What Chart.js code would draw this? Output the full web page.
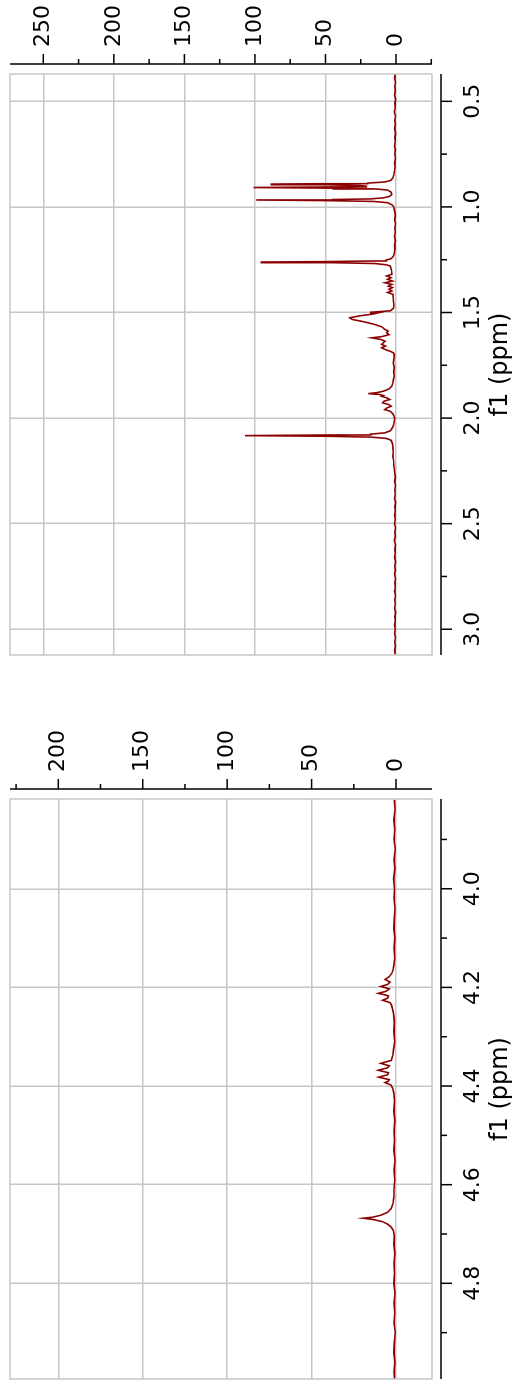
<!DOCTYPE html>
<html>
<head>
<meta charset="utf-8">
<script src="https://cdn.jsdelivr.net/npm/chart.js@4.4.1/dist/chart.umd.min.js"></script>
<style>
    html, body { margin: 0; padding: 0; background: #fff; }
    body { width: 516px; height: 1387px; overflow: hidden; position: relative; }
    /* the spectrum is drawn landscape and turned a quarter to the left */
    #stage {
        position: absolute; left: 0; top: 0;
        width: 1387px; height: 516px;
        transform-origin: 0 0;
        transform: translateY(1387px) rotate(-90deg);
    }
    #stage canvas { position: absolute; top: 0; }
    #downfield { left: 0; }
    #aliphatic { left: 697px; }
</style>
</head>
<body>
<div id="stage">
    <canvas id="downfield" width="690" height="516"></canvas>
    <canvas id="aliphatic" width="690" height="516"></canvas>
</div>
<script>
// 0.37 - 3.12 ppm region
const aliphaticPpm = [
    0.37, 0.39, 0.41, 0.43, 0.45, 0.47, 0.49, 0.51, 0.53, 0.55, 0.57, 0.59, 0.61, 0.63, 0.65, 0.67,
    0.69, 0.71, 0.73, 0.75, 0.77, 0.79, 0.81, 0.83, 0.85, 0.865, 0.875, 0.882, 0.887, 0.890, 0.892,
    0.895, 0.899, 0.902, 0.905, 0.908, 0.911, 0.915, 0.920, 0.930, 0.940, 0.950, 0.957, 0.962, 0.965,
    0.967, 0.970, 0.974, 0.980, 0.990, 1.000, 1.02, 1.04, 1.06, 1.08, 1.10, 1.12, 1.14, 1.16, 1.18,
    1.20, 1.22, 1.235, 1.245, 1.252, 1.256, 1.259, 1.261, 1.264, 1.268, 1.274, 1.280, 1.300, 1.319,
    1.327, 1.335, 1.343, 1.351, 1.359, 1.367, 1.375, 1.382, 1.390, 1.398, 1.405, 1.414, 1.430, 1.450,
    1.465, 1.480, 1.492, 1.497, 1.499, 1.502, 1.508, 1.516, 1.525, 1.533, 1.542, 1.555, 1.568, 1.580,
    1.588, 1.596, 1.605, 1.614, 1.620, 1.627, 1.636, 1.644, 1.651, 1.659, 1.667, 1.675, 1.684, 1.691,
    1.70, 1.72, 1.74, 1.76, 1.78, 1.80, 1.82, 1.835, 1.849, 1.862, 1.873, 1.880, 1.884, 1.888, 1.893,
    1.897, 1.904, 1.912, 1.920, 1.928, 1.936, 1.944, 1.952, 1.960, 1.968, 1.975, 1.983, 1.991, 2.000,
    2.015, 2.030, 2.045, 2.060, 2.070, 2.076, 2.080, 2.083, 2.086, 2.090, 2.096, 2.105, 2.12, 2.14,
    2.16, 2.18, 2.20, 2.22, 2.24, 2.26, 2.28, 2.30, 2.32, 2.34, 2.36, 2.38, 2.40, 2.42, 2.44, 2.46,
    2.48, 2.50, 2.52, 2.54, 2.56, 2.58, 2.60, 2.62, 2.64, 2.66, 2.68, 2.70, 2.72, 2.74, 2.76, 2.78,
    2.80, 2.82, 2.84, 2.86, 2.88, 2.90, 2.92, 2.94, 2.96, 2.98, 3.00, 3.02, 3.04, 3.06, 3.08, 3.10, 3.12
];
const aliphaticIntensity = [
    0.6, 1.0, 0.4, 0.9, 0.5, 1.1, 0.3, 0.8, 0.6, 1.2, 0.4, 0.9, 0.5, 1.0, 0.3, 0.8,
    0.6, 1.1, 0.5, 0.9, 0.4, 1.0, 0.7, 1.1, 1.6, 2.4, 4.0, 8.0, 20, 55, 89,
    50, 25, 21, 40, 101, 45, 14, 6.0, 3.5, 3.0, 4.5, 9.0, 18, 45,
    99, 50, 16, 6.0, 2.8, 1.6, 1.0, 0.5, 1.0, 0.4, 0.9, 0.6, 1.1, 0.5, 1.0,
    0.8, 1.3, 2.0, 3.5, 7.0, 18, 50, 96, 45, 15, 7.0, 4.0, 3.2, 3.0,
    6.6, 3.5, 6.0, 2.5, 7.8, 3.0, 5.5, 2.5, 5.0, 3.0, 6.0, 2.2, 2.0, 1.8,
    1.4, 1.8, 4.0, 14, 18.4, 13, 17, 26, 32.6, 31, 24, 16, 10, 8.0,
    5.5, 6.6, 5.0, 10, 17.2, 11, 7.8, 9.0, 10.2, 7.5, 10.2, 7.8, 4.0, 1.9,
    1.2, 1.5, 1.9, 1.2, 1.7, 1.3, 1.9, 2.3, 3.0, 5.0, 9.0, 14, 19.6, 12, 9.0,
    10.2, 6.6, 4.5, 8.5, 9.5, 5.0, 3.5, 6.5, 8.0, 4.0, 3.0, 2.0, 1.5, 1.0,
    1.2, 1.6, 2.5, 4.0, 8.0, 18, 50, 107, 50, 18, 7.0, 3.5, 2.6, 2.2,
    2.0, 2.3, 1.8, 1.6, 1.2, 0.9, 0.5, 1.0, 0.4, 0.9, 0.6, 1.1, 0.3, 0.8, 0.5, 1.0,
    0.6, 1.1, 0.4, 0.9, 0.5, 1.2, 0.4, 0.8, 0.6, 1.0, 0.3, 0.9, 0.5, 1.1, 0.4, 0.8,
    0.6, 1.0, 0.4, 0.9, 0.6, 1.1, 0.3, 0.8, 0.5, 1.0, 0.6, 1.1, 0.4, 0.9, 0.5, 1.0, 0.7
];

// 3.82 - 4.99 ppm region
const downfieldPpm = [
    3.82, 3.84, 3.86, 3.88, 3.90, 3.92, 3.94, 3.96, 3.98, 4.00, 4.02, 4.04, 4.06, 4.08, 4.10, 4.12,
    4.14, 4.155, 4.165, 4.172, 4.178, 4.184, 4.189, 4.194, 4.198, 4.203, 4.208, 4.212, 4.217, 4.222,
    4.226, 4.231, 4.237, 4.245, 4.255, 4.27, 4.29, 4.31, 4.325, 4.338, 4.348, 4.354, 4.359, 4.363,
    4.368, 4.373, 4.377, 4.382, 4.387, 4.390, 4.393, 4.398, 4.405, 4.415, 4.43, 4.45, 4.47, 4.49,
    4.51, 4.53, 4.55, 4.57, 4.59, 4.61, 4.625, 4.638, 4.648, 4.656, 4.662, 4.666, 4.668, 4.671,
    4.675, 4.680, 4.686, 4.694, 4.705, 4.72, 4.74, 4.76, 4.78, 4.80, 4.82, 4.84, 4.86, 4.88, 4.90,
    4.92, 4.94, 4.96, 4.98, 4.995
];
const downfieldIntensity = [
    1.0, 0.6, 1.3, 0.8, 1.2, 0.5, 1.1, 0.7, 1.4, 0.9, 1.2, 0.6, 1.0, 1.3, 0.7, 1.1,
    0.8, 1.3, 1.8, 2.6, 4.0, 6.5, 3.5, 5.0, 9.0, 4.0, 6.0, 10.5, 4.5, 5.0,
    8.0, 3.5, 2.6, 2.0, 1.4, 1.0, 1.3, 0.8, 1.4, 1.9, 2.8, 9.0, 4.0, 5.0,
    10.5, 4.5, 5.0, 10.3, 4.0, 4.5, 6.5, 3.0, 2.0, 1.3, 0.9, 1.3, 0.7, 1.2,
    0.9, 1.3, 0.6, 1.1, 0.8, 1.2, 1.3, 1.8, 2.8, 5.0, 9.0, 14, 19.4, 13,
    8.0, 5.0, 2.8, 1.5, 1.0, 1.3, 0.7, 1.2, 0.9, 1.3, 0.6, 1.1, 0.8, 1.2, 0.5,
    1.0, 1.3, 0.7, 1.1, 0.9
];

// tick values
const aliphaticPpmTicks = [0.5, 1.0, 1.5, 2.0, 2.5, 3.0];
const aliphaticPpmMinor = [0.75, 1.25, 1.75, 2.25, 2.75];
const aliphaticIntTicks = [0, 50, 100, 150, 200, 250];
const aliphaticIntMinor = [-25, 25, 75, 125, 175, 225];
const downfieldPpmTicks = [4.0, 4.2, 4.4, 4.6, 4.8];
const downfieldPpmMinor = [3.9, 4.1, 4.3, 4.5, 4.7, 4.9];
const downfieldIntTicks = [0, 50, 100, 150, 200];
const downfieldIntMinor = [-25, 25, 75, 125, 175, 225];

const gridGray = '#c6c6c6';
const lineRed = '#8b0000';
const fontFamily = '"DejaVu Sans", Verdana, sans-serif';

// black axes drawn a little away from the gray frame, with major and minor ticks
const offsetAxes = {
    id: 'offsetAxes',
    afterDraw(chart, args, opts) {
        const { ctx, chartArea: a, scales: { x, y } } = chart;
        const seg = (x1, y1, x2, y2) => {
            ctx.beginPath();
            ctx.moveTo(x1, y1);
            ctx.lineTo(x2, y2);
            ctx.stroke();
        };
        ctx.save();
        ctx.strokeStyle = gridGray;
        ctx.lineWidth = 1.5;
        ctx.strokeRect(a.left, a.top, a.right - a.left, a.bottom - a.top);

        ctx.strokeStyle = '#000';
        ctx.lineWidth = 1.5;
        // ppm axis
        const yb = a.bottom + 9;
        seg(a.left, yb, a.right, yb);
        opts.xMajor.forEach(v => { const p = x.getPixelForValue(v); seg(p, yb, p, yb + 11); });
        opts.xMinor.forEach(v => { const p = x.getPixelForValue(v); seg(p, yb, p, yb + 6); });
        // intensity axis
        const xr = a.right + 10;
        seg(xr, a.top, xr, a.bottom);
        opts.yMajor.forEach(v => { const p = y.getPixelForValue(v); seg(xr, p, xr + 10, p); });
        opts.yMinor.forEach(v => { const p = y.getPixelForValue(v); if (p >= a.top && p <= a.bottom) seg(xr, p, xr + 5, p); });
        ctx.restore();
    }
};

function makeSpectrum(canvasId, ppm, intensity, cfg) {
    const points = ppm.map((p, i) => ({ x: p, y: intensity[i] }));
    return new Chart(document.getElementById(canvasId), {
        type: 'line',
        data: {
            datasets: [{
                data: points,
                borderColor: lineRed,
                borderWidth: 1.6,
                pointRadius: 0,
                tension: 0,
                fill: false
            }]
        },
        options: {
            responsive: false,
            animation: false,
            events: [],
            layout: { padding: { left: cfg.padLeft, top: 10, right: 0, bottom: 0 } },
            plugins: {
                legend: { display: false },
                tooltip: { enabled: false },
                offsetAxes: {
                    xMajor: cfg.xTicks, xMinor: cfg.xMinor,
                    yMajor: cfg.yTicks, yMinor: cfg.yMinor
                }
            },
            scales: {
                x: {
                    type: 'linear',
                    position: 'bottom',
                    reverse: true,
                    min: cfg.xMin,
                    max: cfg.xMax,
                    afterBuildTicks: s => { s.ticks = cfg.xTicks.map(v => ({ value: v })); },
                    afterFit: s => {
                        s.height = 84;
                        s.paddingLeft = 0; s.paddingRight = 0;
                    },
                    grid: { color: gridGray, lineWidth: 1.5, tickLength: 20, tickColor: 'rgba(0,0,0,0)' },
                    border: { display: false },
                    ticks: {
                        color: '#000',
                        font: { family: fontFamily, size: 22 },
                        padding: 8,
                        autoSkip: false,
                        maxRotation: 0,
                        minRotation: 0,
                        callback: v => Number(v).toFixed(1)
                    },
                    title: {
                        display: true,
                        text: 'f1 (ppm)',
                        color: '#000',
                        font: { family: fontFamily, size: 24 },
                        padding: { top: 0, bottom: 1 }
                    }
                },
                y: {
                    type: 'linear',
                    position: 'right',
                    min: cfg.yMin,
                    max: cfg.yMax,
                    afterBuildTicks: s => { s.ticks = cfg.yTicks.map(v => ({ value: v })); },
                    afterFit: s => {
                        s.width = cfg.axisWidth;
                        s.paddingTop = 0; s.paddingBottom = 0;
                    },
                    grid: { color: gridGray, lineWidth: 1.5, tickLength: 20, tickColor: 'rgba(0,0,0,0)' },
                    border: { display: false },
                    ticks: {
                        color: '#000',
                        font: { family: fontFamily, size: 22 },
                        padding: 7,
                        callback: v => String(v)
                    }
                }
            }
        },
        plugins: [offsetAxes]
    });
}

document.addEventListener('DOMContentLoaded', function() {
    makeSpectrum('aliphatic', aliphaticPpm, aliphaticIntensity, {
        padLeft: 35, axisWidth: 74,
        xMin: 0.3705, xMax: 3.122, yMin: -25.5, yMax: 273.6,
        xTicks: aliphaticPpmTicks, xMinor: aliphaticPpmMinor,
        yTicks: aliphaticIntTicks, yMinor: aliphaticIntMinor
    });
    makeSpectrum('downfield', downfieldPpm, downfieldIntensity, {
        padLeft: 8, axisWidth: 102,
        xMin: 3.818, xMax: 4.994, yMin: -21.3, yMax: 228.6,
        xTicks: downfieldPpmTicks, xMinor: downfieldPpmMinor,
        yTicks: downfieldIntTicks, yMinor: downfieldIntMinor
    });
});
</script>
</body>
</html>
